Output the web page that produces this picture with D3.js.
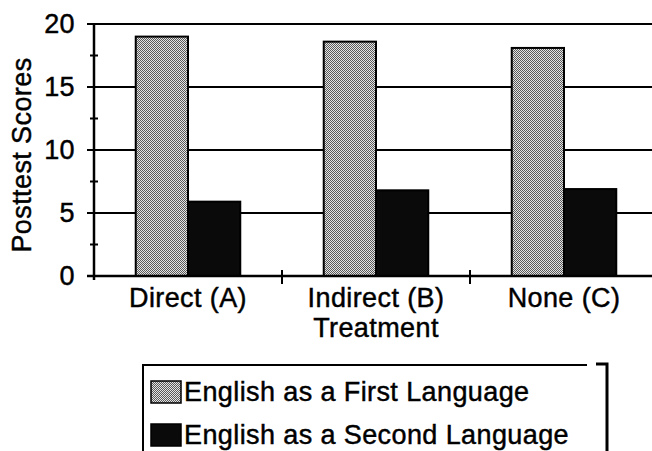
<!DOCTYPE html>
<html>
<head>
<meta charset="utf-8">
<script src="https://cdn.jsdelivr.net/npm/d3@7"></script>
<style>
  html, body { margin: 0; padding: 0; background: #fff; }
  svg { display: block; }
  text { font-family: "Liberation Sans", Arial, sans-serif; fill: #000; stroke: #000; stroke-width: 0.45px; letter-spacing: 0.4px; }
</style>
</head>
<body>
<svg id="chart" width="652" height="451"></svg>
<script>
// ---- data ----
const categories = ["Direct (A)", "Indirect (B)", "None (C)"];
const seriesNames = ["English as a First Language", "English as a Second Language"];
const firstLanguage = [19.0, 18.6, 18.1];
const secondLanguage = [5.9, 6.8, 6.9];
const yTicks = [0, 5, 10, 15, 20];
const yMinorTicks = [2.5, 7.5, 12.5, 17.5];
const xTitle = "Treatment";
const yTitle = "Posttest Scores";

const seriesValues = [firstLanguage, secondLanguage];

const svg = d3.select("#chart");
const W = 652, H = 451;
const plot = { left: 94, right: 658, top: 24, bottom: 276 };
const fontSize = 27;

// patterns
const defs = svg.append("defs");
const pat = defs.append("pattern").attr("id", "stipple")
  .attr("patternUnits", "userSpaceOnUse").attr("width", 2).attr("height", 2);
pat.append("rect").attr("width", 2).attr("height", 2).attr("fill", "#e4e4e4");
pat.append("rect").attr("x", 0).attr("y", 0).attr("width", 1).attr("height", 1).attr("fill", "#5a5a5a");
pat.append("rect").attr("x", 1).attr("y", 1).attr("width", 1).attr("height", 1).attr("fill", "#5a5a5a");
const fills = ["url(#stipple)", "#0a0a0a"];

// scales
const x0 = d3.scaleBand().domain(categories).range([plot.left, plot.right]).padding(0);
const groupFrac = 0.556;
const x1 = d3.scaleBand().domain(seriesNames)
  .range([x0.bandwidth() * (1 - groupFrac) / 2, x0.bandwidth() * (1 + groupFrac) / 2]).padding(0);
const y = d3.scaleLinear().domain([0, 20]).range([plot.bottom, plot.top]);

// gridlines (major ticks extend left of axis)
svg.append("g").selectAll("line").data(yTicks.filter(d => d > 0)).join("line")
  .attr("x1", plot.left - 7).attr("x2", W)
  .attr("y1", d => y(d)).attr("y2", d => y(d))
  .attr("stroke", "#000").attr("stroke-width", 2);

// minor ticks on y axis
svg.append("g").selectAll("line").data(yMinorTicks).join("line")
  .attr("x1", plot.left - 4).attr("x2", plot.left + 4)
  .attr("y1", d => y(d)).attr("y2", d => y(d))
  .attr("stroke", "#000").attr("stroke-width", 2);

// bars
const groups = svg.append("g").selectAll("g").data(categories).join("g")
  .attr("transform", d => `translate(${x0(d)},0)`);
groups.selectAll("rect")
  .data((d, i) => seriesNames.map((s, j) => ({ s, j, v: seriesValues[j][i] })))
  .join("rect")
  .attr("x", d => x1(d.s))
  .attr("width", x1.bandwidth())
  .attr("y", d => y(d.v))
  .attr("height", d => y(0) - y(d.v))
  .attr("fill", d => fills[d.j])
  .attr("stroke", "#000").attr("stroke-width", 2);

// y axis line
svg.append("line").attr("x1", plot.left).attr("x2", plot.left)
  .attr("y1", plot.top).attr("y2", plot.bottom + 4)
  .attr("stroke", "#000").attr("stroke-width", 2.5);
// x axis line
svg.append("line").attr("x1", plot.left - 7).attr("x2", W)
  .attr("y1", plot.bottom).attr("y2", plot.bottom)
  .attr("stroke", "#000").attr("stroke-width", 2.5);
// category separators
svg.append("g").selectAll("line").data(categories.slice(1)).join("line")
  .attr("x1", d => x0(d)).attr("x2", d => x0(d))
  .attr("y1", plot.bottom - 6).attr("y2", plot.bottom + 8)
  .attr("stroke", "#000").attr("stroke-width", 2);

// y tick labels
svg.append("g").selectAll("text").data(yTicks).join("text")
  .attr("x", 75).attr("y", d => y(d) + 9)
  .attr("text-anchor", "end").attr("font-size", fontSize)
  .text(d => d);

// x tick labels
svg.append("g").selectAll("text").data(categories).join("text")
  .attr("x", d => x0(d) + x0.bandwidth() / 2).attr("y", 307)
  .attr("text-anchor", "middle").attr("font-size", fontSize)
  .text(d => d);

// axis titles
svg.append("text").attr("x", 376).attr("y", 337)
  .attr("text-anchor", "middle").attr("font-size", fontSize).text(xTitle);
svg.append("text").attr("transform", "translate(31,155) rotate(-90)")
  .attr("text-anchor", "middle").attr("font-size", fontSize).text(yTitle);

// legend
const lg = svg.append("g");
lg.append("path").attr("d", `M143,${H + 5} V365 H587`)
  .attr("fill", "none").attr("stroke", "#000").attr("stroke-width", 2);
lg.append("path").attr("d", `M596,364 H607 V${H + 5}`)
  .attr("fill", "none").attr("stroke", "#000").attr("stroke-width", 3);
const items = lg.selectAll("g").data(seriesNames).join("g")
  .attr("transform", (d, i) => `translate(0,${381 + i * 43})`);
items.append("rect").attr("x", 151).attr("y", 0).attr("width", 30).attr("height", 22)
  .attr("fill", (d, i) => fills[i]).attr("stroke", "#000").attr("stroke-width", 1.5);
items.append("text").attr("x", 184).attr("y", 20)
  .attr("font-size", fontSize).text(d => d);
</script>
</body>
</html>
